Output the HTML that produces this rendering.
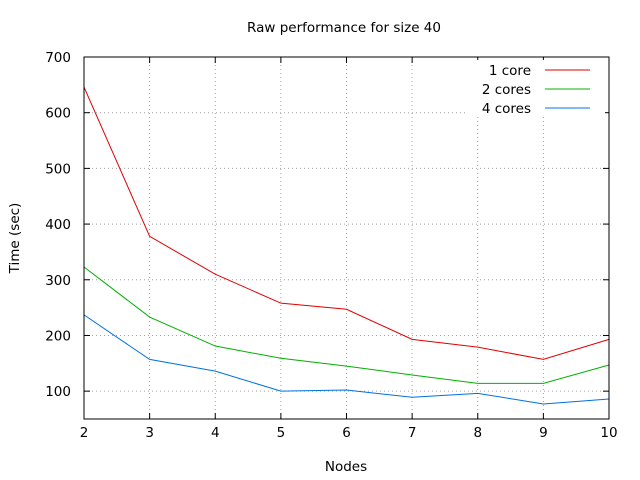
<!DOCTYPE html>
<html><head><meta charset="utf-8"><style>
body{margin:0;background:#fff}
svg{display:block;font-family:"DejaVu Sans","Liberation Sans",sans-serif;font-size:13.5px}
</style></head><body>
<svg id="chart" width="640" height="480">
<text x="344" y="32" text-anchor="middle">Raw performance for size 40</text>
<text x="346" y="471" text-anchor="middle">Nodes</text>
<text transform="translate(19,238) rotate(-90)" text-anchor="middle">Time (sec)</text>
<g id="grid"></g><g id="ticks"></g><g id="series"></g><g id="legend"></g>
<rect x="84" y="57" width="525" height="362" fill="none" stroke="#000"/>
</svg>
<script>
const categories=[2,3,4,5,6,7,8,9,10];
const yTicks=[100,200,300,400,500,600,700];
const seriesNames=["1 core","2 cores","4 cores"];
const seriesColors=["#e00000","#00b000","#0070e0"];
const core1=[646,378,310,258,247,193,179,157,193];
const core2=[323,233,181,159,145,129,114,114,147];
const core4=[237,157,136,100,102,89,96,77,86];
const allSeries=[core1,core2,core4];
const L=84,R=609,T=57,B=419,ymin=50,ymax=700;
const xs=v=>L+(v-2)/8*(R-L);
const ys=v=>B-(v-ymin)/(ymax-ymin)*(B-T);
const NS="http://www.w3.org/2000/svg";
function mk(tag,attrs,parent){const e=document.createElementNS(NS,tag);for(const k in attrs)e.setAttribute(k,attrs[k]);parent.appendChild(e);return e;}
const g=document.getElementById('grid'),tk=document.getElementById('ticks'),sg=document.getElementById('series'),lg=document.getElementById('legend');
categories.forEach(c=>{
 const x=xs(c);
 if(c>2&&c<10){const l=mk('line',{x1:x,x2:x,y1:T,y2:B,stroke:'#a0a0a0','stroke-dasharray':'1,3'},g);
 
 }
 mk('line',{x1:x,x2:x,y1:B,y2:B-6,stroke:'#000'},tk);
 mk('line',{x1:x,x2:x,y1:T,y2:T+6,stroke:'#000'},tk);
 const t=mk('text',{x:x,y:B+18,'text-anchor':'middle'},tk);t.textContent=c;
 
 
});
yTicks.forEach(v=>{
 const y=ys(v);
 if(v<700){const l=mk('line',{x1:L,x2:R,y1:y,y2:y,stroke:'#a0a0a0','stroke-dasharray':'1,3'},g);
 
 }
 mk('line',{x1:L,x2:L+6,y1:y,y2:y,stroke:'#000'},tk);
 mk('line',{x1:R,x2:R-6,y1:y,y2:y,stroke:'#000'},tk);
 const t=mk('text',{x:L-13,y:y+5,'text-anchor':'end'},tk);t.textContent=v;
 
 
});
mk('rect',{x:465,y:60,width:140,height:57,fill:'#fff'},lg);
allSeries.forEach((s,i)=>{
 const p=mk('polyline',{points:s.map((v,j)=>xs(categories[j])+','+ys(v)).join(' '),fill:'none',stroke:seriesColors[i],'stroke-width':1},sg);
 
 
 const ly=70+i*19;
 const t=mk('text',{x:531,y:ly+5,'text-anchor':'end'},lg);t.textContent=seriesNames[i];
 
 
 const l=mk('line',{x1:545,x2:590,y1:ly,y2:ly,stroke:seriesColors[i]},lg);
 
 
});
</script>
</body></html>
